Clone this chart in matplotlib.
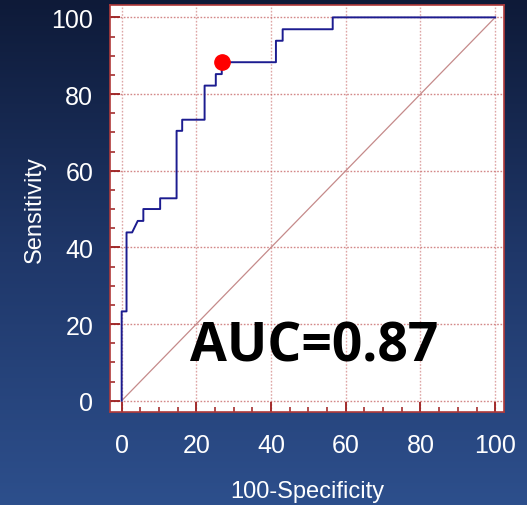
import numpy as np
import matplotlib
matplotlib.use("Agg")
import matplotlib.pyplot as plt
from matplotlib.colors import LinearSegmentedColormap
from matplotlib.ticker import MultipleLocator

# ROC curve vertices (100-specificity vs sensitivity, in %)
roc_fpr = [0, 0, 1.3, 1.3, 2.8, 4.3, 5.8, 5.8, 10.3, 10.3, 14.7, 14.7, 16.2, 16.2,
           22.2, 22.2, 25.2, 25.2, 26.8, 26.8, 41.3, 41.3, 43.1, 43.1, 56.5, 56.5, 100]
roc_sens = [0, 23.3, 23.3, 43.9, 43.9, 46.9, 46.9, 50.0, 50.0, 52.8, 52.8, 70.4, 70.4, 73.3,
            73.3, 82.2, 82.2, 85.2, 85.2, 88.3, 88.3, 93.9, 93.9, 96.9, 96.9, 100, 100]
cutoff = (26.8, 88.3)
auc = 0.87
ticks = [0, 20, 40, 60, 80, 100]

plt.rcParams['font.family'] = ['Liberation Sans', 'DejaVu Sans']

fig = plt.figure(figsize=(5.27, 5.06), dpi=100)

# background gradient, dark navy at the top to lighter blue at the bottom
bg = fig.add_axes([0, 0, 1, 1], zorder=0)
cmap = LinearSegmentedColormap.from_list('bg', ['#0e1a38', '#1f3769', '#2d4f8c'])
grad = np.linspace(0, 1, 256).reshape(-1, 1)
bg.imshow(grad, aspect='auto', cmap=cmap, extent=[0, 1, 0, 1], origin='upper')
bg.axis('off')

ax = fig.add_axes([0.2087, 0.1844, 0.7476, 0.8043], zorder=1)
ax.set_facecolor('white')

frame = '#9b1c1c'
grid_c = '#c86a6a'

ax.plot([0, 100], [0, 100], color='#c58a8a', lw=0.9, zorder=2)
ax.plot(roc_fpr, roc_sens, color='#1c1c90', lw=1.4, zorder=3)
ax.plot(*cutoff, 'o', color='#ff0000', ms=11, zorder=4)

ax.text(51.5, 14.2, f'AUC={auc:.2f}', ha='center', va='center', fontsize=38.5,
        fontweight='bold', color='black', family=['Open Sans', 'DejaVu Sans'], zorder=5)

ax.set_xlim(-3.13, 102.35)
ax.set_ylim(-2.87, 103.3)
ax.set_xticks(ticks)
ax.set_yticks(ticks)
ax.xaxis.set_minor_locator(MultipleLocator(5))
ax.yaxis.set_minor_locator(MultipleLocator(5))

for v in ticks:
    ax.axvline(v, color=grid_c, lw=1.0, ls=(0, (1.2, 1.2)), alpha=0.6, zorder=1)
    ax.axhline(v, color=grid_c, lw=1.0, ls=(0, (1.2, 1.2)), alpha=0.8, zorder=1)

for s in ax.spines.values():
    s.set_color('#b03a3a')
    s.set_linewidth(1.2)

ax.tick_params(which='major', direction='in', length=7.5, width=1.3, color=frame,
               labelsize=18, labelcolor='white', top=False, right=False)
ax.tick_params(axis='x', which='major', pad=15)
ax.tick_params(axis='y', which='major', pad=12)
ax.tick_params(which='minor', direction='in', length=3.8, width=1.1, color=frame,
               top=False, right=False)

ax.set_xlabel('100-Specificity', color='white', fontsize=17, labelpad=17)
ax.set_ylabel('Sensitivity', color='white', fontsize=17, labelpad=4)

fig.savefig('out.png', dpi=100)
